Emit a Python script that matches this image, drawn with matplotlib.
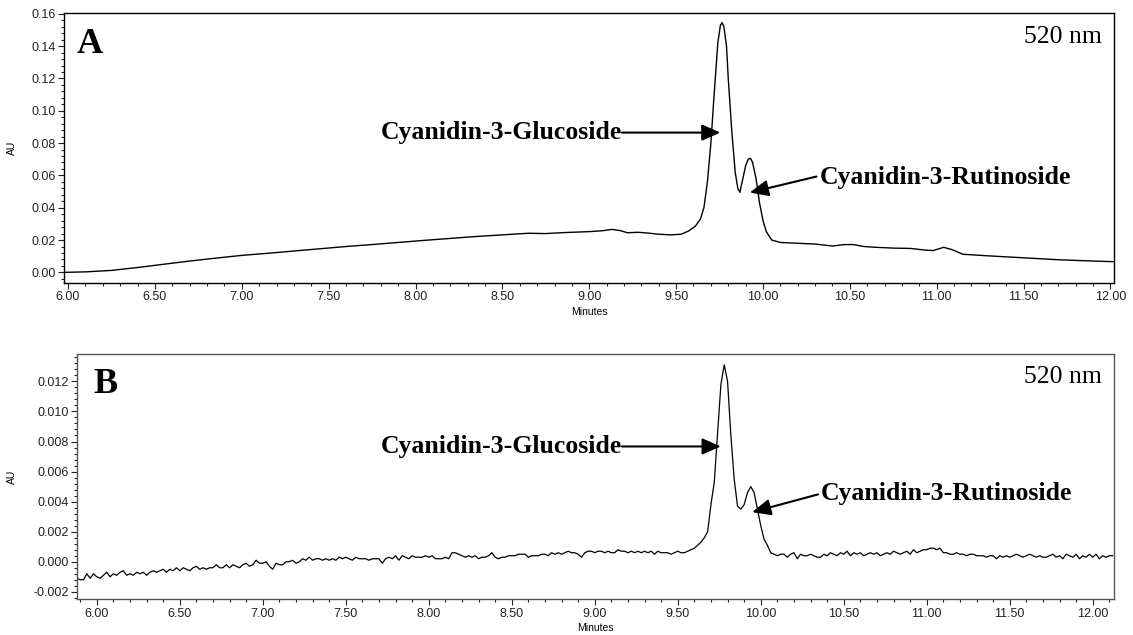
import numpy as np
import matplotlib
matplotlib.use("Agg")
import matplotlib.pyplot as plt
from matplotlib.ticker import MultipleLocator, FormatStrFormatter

# panel A: smooth trace, (minutes, AU)
times_a = [5.98, 6.10, 6.25, 6.40, 6.55, 6.70, 6.85, 7.00, 7.15, 7.30, 7.45, 7.60,
           7.75, 7.90, 8.05, 8.20, 8.35, 8.50, 8.65, 8.75, 8.85, 9.00, 9.08, 9.13,
           9.18, 9.22, 9.28, 9.33, 9.40, 9.47, 9.53, 9.57, 9.61, 9.64, 9.66, 9.68,
           9.70, 9.72, 9.74, 9.755, 9.765, 9.775, 9.79, 9.80, 9.82, 9.84, 9.855, 9.867,
           9.88, 9.90, 9.915, 9.928, 9.94, 9.96, 9.98, 10.00, 10.02, 10.05, 10.10, 10.20,
           10.30, 10.40, 10.47, 10.52, 10.58, 10.65, 10.75, 10.85, 10.93, 10.98, 11.04, 11.09,
           11.15, 11.30, 11.50, 11.70, 11.90, 12.02]
au_a = [0.0000, 0.0003, 0.0012, 0.0030, 0.0050, 0.0070, 0.0088, 0.0105, 0.0118, 0.0132, 0.0146, 0.0160,
        0.0172, 0.0185, 0.0198, 0.0210, 0.0222, 0.0232, 0.0242, 0.0240, 0.0246, 0.0252, 0.0258, 0.0266,
        0.0258, 0.0245, 0.0248, 0.0244, 0.0236, 0.0232, 0.0236, 0.0255, 0.0285, 0.0330, 0.0400, 0.0560,
        0.0800, 0.1120, 0.1420, 0.1530, 0.1545, 0.1520, 0.1400, 0.1200, 0.0880, 0.0620, 0.0520, 0.0495,
        0.0560, 0.0660, 0.0700, 0.0706, 0.0680, 0.0580, 0.0430, 0.0320, 0.0250, 0.0200, 0.0185, 0.0180,
        0.0175, 0.0163, 0.0172, 0.0172, 0.0160, 0.0155, 0.0150, 0.0148, 0.0138, 0.0135, 0.0155, 0.0140,
        0.0112, 0.0102, 0.0090, 0.0078, 0.0070, 0.0066]

# panel B: noisy trace sampled every 0.02 min from 5.88, values in 1e-4 AU
start_b = 5.88
step_b = 0.02
au_b_e4 = [
    -11, -12, -12, -8, -11, -8, -10, -11, -9, -7,
    -10, -8, -9, -7, -6, -9, -8, -9, -7, -8,
    -7, -9, -7, -6, -7, -6, -5, -7, -5, -6,
    -4, -6, -4, -5, -6, -4, -3, -5, -4, -5,
    -4, -4, -2, -4, -4, -2, -4, -2, -3, -4,
    -2, -1, -3, -2, 1, -1, -1, 0, -3, -5,
    -1, -2, -2, 0, 0, 1, -1, 0, 2, 1,
    3, 1, 2, 2, 1, 2, 1, 2, 1, 3,
    2, 3, 2, 1, 3, 2, 2, 2, 1, 2,
    2, 2, -1, 2, 3, 2, 4, 1, 4, 3,
    2, 4, 3, 3, 3, 4, 3, 4, 2, 2,
    2, 3, 2, 6, 6, 5, 4, 3, 4, 3,
    4, 2, 3, 3, 4, 6, 3, 2, 3, 3,
    4, 4, 4, 5, 5, 5, 3, 4, 4, 4,
    5, 5, 4, 6, 5, 6, 5, 6, 7, 6,
    6, 5, 3, 6, 7, 7, 6, 7, 7, 6,
    7, 6, 6, 8, 7, 7, 6, 7, 6, 7,
    6, 7, 6, 7, 5, 7, 6, 6, 6, 5,
    6, 7, 6, 6, 7, 8, 9, 11, 13, 16,
    20, 38, 53, 85, 118, 131, 120, 84, 55, 37,
    35, 38, 46, 50, 46, 35, 24, 15, 11, 6,
    5, 4, 5, 5, 3, 5, 6, 2, 5, 4,
    4, 5, 4, 3, 3, 5, 4, 6, 5, 4,
    6, 5, 7, 4, 6, 5, 6, 4, 5, 6,
    5, 6, 4, 5, 6, 5, 7, 6, 5, 6,
    7, 5, 8, 6, 7, 8, 8, 9, 9, 8,
    9, 6, 6, 5, 5, 6, 5, 5, 4, 5,
    5, 4, 4, 4, 3, 4, 4, 2, 4, 3,
    4, 3, 4, 5, 4, 3, 4, 5, 4, 3,
    4, 3, 3, 4, 5, 3, 4, 2, 5, 4,
    3, 5, 2, 4, 3, 5, 3, 5, 2, 4,
    3, 4, 4,
]
times_b = start_b + step_b * np.arange(len(au_b_e4))
au_b = np.array(au_b_e4) * 1e-4

compound_1 = "Cyanidin-3-Glucoside"
compound_2 = "Cyanidin-3-Rutinoside"
wavelength = "520 nm"

plt.rcParams["font.family"] = ["Liberation Sans", "DejaVu Sans"]
serif = ["Liberation Serif", "DejaVu Serif"]

fig = plt.figure(figsize=(11.33, 6.35), dpi=100)
ax_a = fig.add_axes([0.0565, 0.5543, 0.9267, 0.4252])
ax_b = fig.add_axes([0.0680, 0.0562, 0.9155, 0.3858])

ax_a.plot(times_a, au_a, color="black", lw=1.0)
ax_b.plot(times_b, au_b, color="black", lw=0.9)

ax_a.set_xlim(5.977, 12.02)
ax_a.set_ylim(-0.0066, 0.1605)
ax_b.set_xlim(5.881, 12.13)
ax_b.set_ylim(-0.0025, 0.0138)

for ax, ymaj, ymin, yfmt, spine_col in [(ax_a, 0.02, 0.004, "%.2f", "black"),
                                        (ax_b, 0.002, 0.0004, "%.3f", "#555555")]:
    ax.xaxis.set_major_locator(MultipleLocator(0.5))
    ax.xaxis.set_minor_locator(MultipleLocator(0.1))
    ax.xaxis.set_major_formatter(FormatStrFormatter("%.2f"))
    ax.yaxis.set_major_locator(MultipleLocator(ymaj))
    ax.yaxis.set_minor_locator(MultipleLocator(ymin))
    ax.yaxis.set_major_formatter(FormatStrFormatter(yfmt))
    ax.tick_params(which="major", length=4, width=0.8, labelsize=9, pad=2, colors="#222222")
    ax.tick_params(which="minor", length=2.5, width=0.8, colors="#222222")
    for s in ax.spines.values():
        s.set_color(spine_col)
        s.set_linewidth(1.0)
    ax.set_xlabel("Minutes", fontsize=7.5, labelpad=2.5)
    ax.set_ylabel("AU", fontsize=7.5)

ax_a.yaxis.set_label_coords(-0.0448, 0.5)
ax_b.yaxis.set_label_coords(-0.0578, 0.5)

arrow = dict(arrowstyle="-|>,head_length=0.75,head_width=0.33", color="black",
             lw=1.5, mutation_scale=15, shrinkA=0, shrinkB=0)
label_font = dict(fontsize=18.5, fontweight="bold", family=serif)

# panel A labels
ax_a.text(0.0124, 0.852, "A", transform=ax_a.transAxes, fontsize=26, fontweight="bold",
          family=serif, va="baseline", ha="left")
ax_a.text(0.9886, 0.89, wavelength, transform=ax_a.transAxes, fontsize=18.5, family=serif,
          va="baseline", ha="right")
ax_a.annotate("", xy=(9.755, 0.0865), xytext=(9.188, 0.0865), arrowprops=arrow)
ax_a.text(9.188, 0.0865, compound_1, ha="right", va="center", **label_font)
ax_a.annotate("", xy=(9.924, 0.0494), xytext=(10.308, 0.0593), arrowprops=arrow)
ax_a.text(10.325, 0.0590, compound_2, ha="left", va="center", **label_font)

# panel B labels
ax_b.text(0.0155, 0.841, "B", transform=ax_b.transAxes, fontsize=26, fontweight="bold",
          family=serif, va="baseline", ha="left")
ax_b.text(0.9884, 0.884, wavelength, transform=ax_b.transAxes, fontsize=18.5, family=serif,
          va="baseline", ha="right")
ax_b.annotate("", xy=(9.759, 0.00767), xytext=(9.164, 0.00767), arrowprops=arrow)
ax_b.text(9.164, 0.00767, compound_1, ha="right", va="center", **label_font)
ax_b.annotate("", xy=(9.948, 0.0033), xytext=(10.345, 0.00448), arrowprops=arrow)
ax_b.text(10.36, 0.00455, compound_2, ha="left", va="center", **label_font)

fig.savefig("out.png", dpi=100)
